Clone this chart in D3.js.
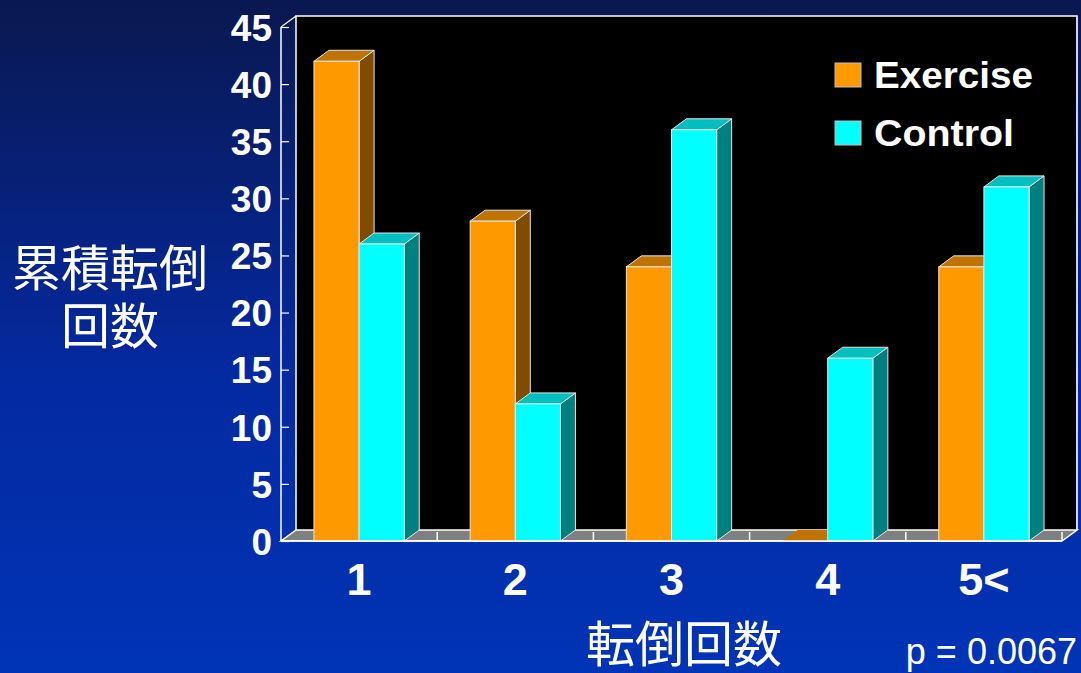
<!DOCTYPE html>
<html>
<head>
<meta charset="utf-8">
<script src="https://cdn.jsdelivr.net/npm/d3@7"></script>
<style>
  html, body { margin: 0; padding: 0; background: #0a1a5a; }
  svg { display: block; }
</style>
</head>
<body>
<svg id="chart" width="1081" height="673"></svg>
<script>
// Cumulative falls by number of falls, exercise vs. control
const categories = ["1", "2", "3", "4", "5<"];
const seriesNames = ["Exercise", "Control"];
const exerciseValues = [42, 28, 24, 0, 24];
const controlValues = [26, 12, 36, 16, 31];
const yTicks = [0, 5, 10, 15, 20, 25, 30, 35, 40, 45];
const yTitleLines = ["累積転倒", "回数"];
const xTitle = "転倒回数";
const pValueText = "p = 0.0067";

const W = 1081, H = 673;
const svg = d3.select("#chart");

// background gradient
const defs = svg.append("defs");
const bg = defs.append("linearGradient").attr("id", "bg")
  .attr("x1", 0).attr("y1", 0).attr("x2", 0).attr("y2", 1);
bg.append("stop").attr("offset", "0%").attr("stop-color", "#0a1850");
bg.append("stop").attr("offset", "55%").attr("stop-color", "#0429a0");
bg.append("stop").attr("offset", "100%").attr("stop-color", "#0034b6");
svg.append("rect").attr("width", W).attr("height", H).attr("fill", "url(#bg)");

// 3D geometry
const depthX = 15, depthY = 11;
const x = d3.scaleBand().domain(categories).range([281, 1062]);
const inner = d3.scaleBand().domain(seriesNames).range([0, x.bandwidth()])
  .paddingInner(0).paddingOuter(0.73);
const y = d3.scaleLinear().domain([0, 45]).range([541, 27]);

const colors = {
  Exercise: { front: "#ff9900", top: "#bf7300", side: "#7f4c00" },
  Control:  { front: "#00ffff", top: "#00bfbf", side: "#007f7f" }
};

const [x0, x1] = x.range();
const y0 = y(0), yTop = y(45);

// back wall
svg.append("rect")
  .attr("x", x0 + depthX).attr("y", yTop - depthY)
  .attr("width", x1 - x0).attr("height", y0 - yTop)
  .attr("fill", "#000000");
svg.append("path")
  .attr("d", `M${x0 + depthX},${y0 - depthY} V${yTop - depthY} H${x1 + depthX} V${y0 - depthY}`)
  .attr("fill", "none").attr("stroke", "#ffffff").attr("stroke-width", 1.5);
svg.append("line")
  .attr("x1", x1 + depthX).attr("x2", x1 + depthX)
  .attr("y1", yTop - depthY).attr("y2", y0 - depthY)
  .attr("stroke", "#c8d4ff").attr("stroke-width", 2);

// side wall outline (transparent)
svg.append("path")
  .attr("d", `M${x0},${yTop} L${x0 + depthX},${yTop - depthY}`)
  .attr("fill", "none").attr("stroke", "#ffffff").attr("stroke-width", 1.2);

// floor
svg.append("path")
  .attr("d", `M${x0},${y0} L${x0 + depthX},${y0 - depthY} H${x1 + depthX} L${x1},${y0} Z`)
  .attr("fill", "#808080").attr("stroke", "#ffffff").attr("stroke-width", 1.5);
svg.selectAll("line.floortick")
  .data(categories.slice(1).map(c => x(c)).concat([x1]))
  .join("line").attr("class", "floortick")
  .attr("x1", d => d).attr("x2", d => d)
  .attr("y1", y0 - depthY + 2).attr("y2", y0)
  .attr("stroke", "#ffffff").attr("stroke-width", 1.5);

// y axis
const yAxis = d3.axisLeft(y).tickValues(yTicks).tickSize(-8).tickPadding(9);
const gy = svg.append("g").attr("transform", `translate(${x0},0)`).call(yAxis);
gy.select(".domain").attr("stroke", "#ffffff").attr("stroke-width", 1.5)
  .attr("d", `M0,${y0}V${yTop}`);
gy.selectAll(".tick line").attr("stroke", "#ffffff").attr("stroke-width", 1.2);
gy.selectAll(".tick text")
  .attr("fill", "#ffffff")
  .style("font-family", "Liberation Sans, Arial, sans-serif")
  .style("font-weight", "bold")
  .style("font-size", "37px")
  .attr("dy", "0.36em");

// bars
const barData = [];
categories.forEach((c, i) => {
  barData.push({ cat: c, series: "Exercise", value: exerciseValues[i] });
  barData.push({ cat: c, series: "Control", value: controlValues[i] });
});

const bars = svg.append("g").selectAll("g.bar").data(barData).join("g").attr("class", "bar");
bars.each(function (d) {
  const g = d3.select(this);
  const bx = x(d.cat) + inner(d.series);
  const bw = inner.bandwidth();
  const by = y(d.value);
  const c = colors[d.series];
  const stroke = "#e6e6e6";
  // side face
  if (d.value > 0) {
    g.append("path")
      .attr("d", `M${bx + bw},${by} L${bx + bw + depthX},${by - depthY} V${y0 - depthY} L${bx + bw},${y0} Z`)
      .attr("fill", c.side).attr("stroke", stroke).attr("stroke-width", 1);
  }
  // top face
  g.append("path")
    .attr("d", `M${bx},${by} L${bx + depthX},${by - depthY} H${bx + bw + depthX} L${bx + bw},${by} Z`)
    .attr("fill", c.top).attr("stroke", d.value > 0 ? stroke : "none").attr("stroke-width", 1);
  // front face
  if (d.value > 0) {
    g.append("rect")
      .attr("x", bx).attr("y", by).attr("width", bw).attr("height", y0 - by)
      .attr("fill", c.front).attr("stroke", stroke).attr("stroke-width", 1);
  }
});

// front floor edge
svg.append("line")
  .attr("x1", x0).attr("x2", x1).attr("y1", y0).attr("y2", y0)
  .attr("stroke", "#ffffff").attr("stroke-width", 1.5);

// x axis labels
const xAxis = d3.axisBottom(x).tickSize(0).tickPadding(22);
const gx = svg.append("g").attr("transform", `translate(0,${y0})`).call(xAxis);
gx.select(".domain").remove();
gx.selectAll(".tick text")
  .attr("fill", "#ffffff")
  .style("font-family", "Liberation Sans, Arial, sans-serif")
  .style("font-weight", "bold")
  .style("font-size", "45px");

// legend
const legendWidths = { Exercise: 159, Control: 140 };
const legend = svg.append("g").attr("transform", "translate(835,63)");
seriesNames.forEach((s, i) => {
  const row = legend.append("g").attr("transform", `translate(0,${i * 58})`);
  row.append("rect").attr("width", 26).attr("height", 24)
    .attr("fill", colors[s].front).attr("stroke", "#c0c0c0").attr("stroke-width", 1);
  row.append("text").attr("x", 39).attr("y", 25)
    .attr("fill", "#ffffff")
    .attr("textLength", legendWidths[s])
    .attr("lengthAdjust", "spacingAndGlyphs")
    .style("font-family", "Liberation Sans, Arial, sans-serif")
    .style("font-weight", "bold")
    .style("font-size", "36px")
    .text(s);
});

// axis titles
const cjk = "'Noto Sans CJK JP', 'Noto Sans CJK SC', sans-serif";
yTitleLines.forEach((line, i) => {
  svg.append("text")
    .attr("x", 110).attr("y", 286 + i * 58)
    .attr("text-anchor", "middle")
    .attr("fill", "#ffffff")
    .style("font-family", cjk)
    .style("font-size", "49px")
    .text(line);
});

svg.append("text")
  .attr("x", 684).attr("y", 662)
  .attr("text-anchor", "middle")
  .attr("fill", "#ffffff")
  .style("font-family", cjk)
  .style("font-size", "49px")
  .text(xTitle);

svg.append("text")
  .attr("x", 1077).attr("y", 664)
  .attr("text-anchor", "end")
  .attr("fill", "#ffffff")
  .style("font-family", "Liberation Sans, Arial, sans-serif")
  .style("font-size", "36px")
  .text(pValueText);
</script>
</body>
</html>
